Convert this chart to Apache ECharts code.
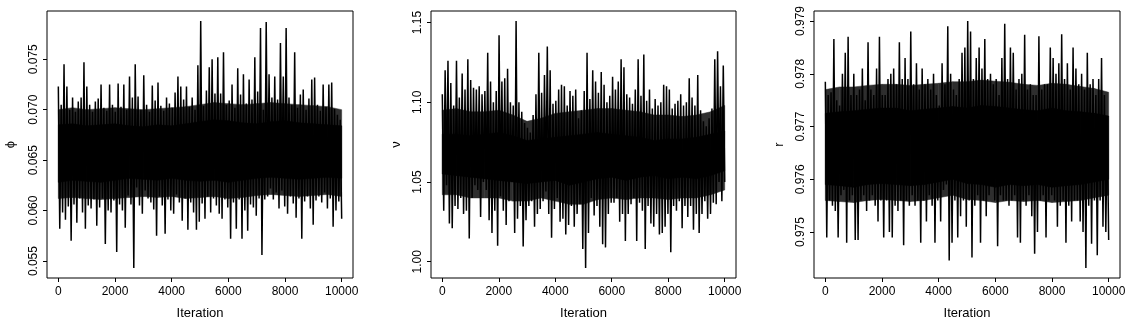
<!DOCTYPE html>
<html>
<head>
<meta charset="utf-8">
<script src="https://cdn.jsdelivr.net/npm/echarts@6/dist/echarts.min.js"></script>
<style>
html,body{margin:0;padding:0;background:#fff;}
#chart{width:1130px;height:325px;}
</style>
</head>
<body>
<div id="chart"></div>
<script>
// Iteration axis ticks
const iterTicks = [0, 2000, 4000, 6000, 8000, 10000];
// iterations at which the dense core / fringe bands of each trace are read (every 500)
const coreIter = [0,500,1000,1500,2000,2500,3000,3500,4000,4500,5000,5500,6000,6500,7000,7500,8000,8500,9000,9500,10000];

// phi trace: successive upper / lower excursions (every ~100 iterations)
const phiHigh = [0.0723,0.0705,0.0745,0.0723,0.0700,0.0712,0.0698,0.0708,0.0712,0.0747,
0.0723,0.0705,0.0698,0.0708,0.0711,0.0725,0.0702,0.0699,0.0725,0.0705,
0.0698,0.0726,0.0703,0.0725,0.0700,0.0733,0.0712,0.0745,0.0713,0.0700,
0.0734,0.0705,0.0698,0.0724,0.0709,0.0727,0.0704,0.0699,0.0712,0.0706,
0.0702,0.0717,0.0733,0.0723,0.0710,0.0723,0.0703,0.0712,0.0700,0.0744,
0.0788,0.0704,0.0719,0.0742,0.0750,0.0716,0.0752,0.0716,0.0757,0.0705,
0.0709,0.0725,0.0702,0.0741,0.0715,0.0735,0.0706,0.0730,0.0710,0.0752,
0.0718,0.0781,0.0700,0.0787,0.0735,0.0712,0.0733,0.0710,0.0766,0.0733,
0.0781,0.0712,0.0705,0.0757,0.0702,0.0715,0.0720,0.0700,0.0711,0.0730,
0.0732,0.0705,0.0699,0.0725,0.0703,0.0725,0.0727,0.0701,0.0695,0.0690];
const phiLow = [0.0582,0.0598,0.0591,0.0604,0.0570,0.0606,0.0588,0.0612,0.0598,0.0582,
0.0605,0.0602,0.0611,0.0585,0.0603,0.0612,0.0567,0.0600,0.0598,0.0610,
0.0559,0.0606,0.0600,0.0583,0.0615,0.0606,0.0543,0.0623,0.0605,0.0597,
0.0620,0.0612,0.0608,0.0601,0.0575,0.0614,0.0605,0.0577,0.0611,0.0600,
0.0597,0.0616,0.0608,0.0590,0.0612,0.0581,0.0608,0.0598,0.0581,0.0589,
0.0607,0.0592,0.0614,0.0598,0.0612,0.0605,0.0597,0.0592,0.0611,0.0603,
0.0572,0.0608,0.0582,0.0611,0.0572,0.0600,0.0580,0.0606,0.0603,0.0595,
0.0612,0.0556,0.0611,0.0614,0.0622,0.0611,0.0618,0.0602,0.0620,0.0604,
0.0597,0.0614,0.0607,0.0593,0.0612,0.0572,0.0609,0.0614,0.0602,0.0586,
0.0610,0.0614,0.0608,0.0618,0.0602,0.0612,0.0584,0.0600,0.0609,0.0592];
const phiCoreUp = [0.0685,0.0686,0.0684,0.0685,0.0686,0.0684,0.0683,0.0685,0.0684,0.0686,0.0688,0.0690,0.0689,0.0687,0.0686,0.0688,0.0689,0.0687,0.0686,0.0685,0.0684];
const phiCoreLo = [0.0628,0.0630,0.0629,0.0628,0.0630,0.0632,0.0631,0.0630,0.0632,0.0630,0.0629,0.0630,0.0628,0.0630,0.0632,0.0633,0.0632,0.0631,0.0632,0.0633,0.0632];
const phiFringeUp = [0.0700,0.0702,0.0700,0.0701,0.0702,0.0701,0.0700,0.0701,0.0702,0.0703,0.0705,0.0707,0.0706,0.0705,0.0706,0.0707,0.0706,0.0705,0.0704,0.0703,0.0700];
const phiFringeLo = [0.0612,0.0613,0.0612,0.0611,0.0612,0.0613,0.0614,0.0613,0.0614,0.0612,0.0613,0.0614,0.0612,0.0613,0.0615,0.0616,0.0615,0.0614,0.0615,0.0616,0.0614];
const phiTicks = [0.055, 0.060, 0.065, 0.070, 0.075];

// nu trace
const nuHigh = [1.105,1.120,1.126,1.112,1.098,1.126,1.103,1.118,1.108,1.127,
1.114,1.109,1.108,1.110,1.105,1.107,1.131,1.113,1.100,1.107,
1.142,1.113,1.115,1.121,1.100,1.098,1.151,1.100,1.094,1.087,
1.084,1.081,1.092,1.105,1.131,1.106,1.117,1.135,1.120,1.099,
1.101,1.108,1.111,1.110,1.098,1.107,1.104,1.108,1.090,1.095,
1.107,1.131,1.102,1.120,1.113,1.106,1.119,1.111,1.100,1.104,
1.116,1.108,1.113,1.127,1.122,1.105,1.103,1.099,1.108,1.127,
1.104,1.130,1.101,1.108,1.096,1.102,1.098,1.100,1.111,1.110,
1.108,1.096,1.099,1.101,1.105,1.098,1.100,1.115,1.103,1.098,
1.117,1.095,1.088,1.085,1.090,1.096,1.127,1.132,1.110,1.123];
const nuLow = [1.032,1.048,1.024,1.021,1.035,1.033,1.040,1.030,1.032,1.0145,
1.040,1.048,1.045,1.028,1.050,1.045,1.026,1.018,1.032,1.010,
1.041,1.032,1.023,1.038,1.050,1.018,1.027,1.035,1.0096,1.026,
1.035,1.038,1.022,1.030,1.033,1.038,1.044,1.030,1.015,1.033,
1.040,1.025,1.027,1.017,1.023,1.035,1.022,1.030,1.036,1.008,
0.996,1.018,1.040,1.029,1.035,1.022,1.011,1.009,1.030,1.037,
1.037,1.040,1.025,1.030,1.013,1.030,1.036,1.040,1.013,1.037,
1.032,1.008,1.035,1.024,1.022,1.030,1.017,1.018,1.022,1.030,
1.006,1.035,1.032,1.038,1.021,1.035,1.028,1.035,1.020,1.030,
1.018,1.030,1.038,1.027,1.030,1.037,1.036,1.050,1.038,1.050];
const nuCoreUp = [1.080,1.080,1.079,1.080,1.081,1.079,1.076,1.077,1.078,1.079,1.080,1.081,1.080,1.079,1.078,1.076,1.077,1.077,1.078,1.080,1.082];
const nuCoreLo = [1.055,1.054,1.053,1.052,1.051,1.050,1.049,1.050,1.051,1.048,1.050,1.052,1.053,1.051,1.053,1.054,1.052,1.053,1.052,1.054,1.057];
const nuFringeUp = [1.095,1.096,1.094,1.094,1.095,1.092,1.088,1.090,1.093,1.094,1.095,1.096,1.096,1.095,1.094,1.092,1.092,1.091,1.092,1.094,1.098];
const nuFringeLo = [1.042,1.042,1.040,1.040,1.040,1.038,1.038,1.040,1.038,1.036,1.036,1.039,1.040,1.039,1.040,1.040,1.039,1.040,1.040,1.042,1.045];
const nuTicks = [1.00, 1.05, 1.10, 1.15];

// r trace
const rHigh = [0.97785,0.97760,0.97765,0.97866,0.97750,0.97740,0.97800,0.97840,0.97870,0.97760,
0.97800,0.97760,0.97770,0.97810,0.97750,0.97860,0.97770,0.97760,0.97810,0.97870,
0.97760,0.97760,0.97790,0.97800,0.97810,0.97780,0.97860,0.97790,0.97830,0.97790,
0.97880,0.97780,0.97820,0.97770,0.97810,0.97780,0.97790,0.97770,0.97800,0.97760,
0.97740,0.97820,0.97780,0.97890,0.97800,0.97770,0.97760,0.97790,0.97840,0.97850,
0.97900,0.97880,0.97790,0.97830,0.97850,0.97810,0.97866,0.97790,0.97800,0.97780,
0.97790,0.97760,0.97830,0.97895,0.97790,0.97850,0.97840,0.97770,0.97790,0.97800,
0.97874,0.97770,0.97780,0.97760,0.97760,0.97871,0.97770,0.97780,0.97780,0.97850,
0.97830,0.97800,0.97820,0.97875,0.97790,0.97820,0.97770,0.97850,0.97810,0.97780,
0.97800,0.97770,0.97840,0.97780,0.97790,0.97760,0.97790,0.97830,0.97760,0.97710];
const rLow = [0.97490,0.97560,0.97550,0.97540,0.97490,0.97570,0.97580,0.97480,0.97560,0.97570,
0.97485,0.97485,0.97560,0.97570,0.97540,0.97560,0.97570,0.97550,0.97520,0.97560,
0.97490,0.97560,0.97500,0.97490,0.97550,0.97540,0.97560,0.97475,0.97560,0.97550,
0.97570,0.97550,0.97560,0.97480,0.97560,0.97520,0.97570,0.97550,0.97480,0.97560,
0.97520,0.97580,0.97590,0.97446,0.97480,0.97560,0.97490,0.97530,0.97560,0.97510,
0.97560,0.97452,0.97550,0.97570,0.97480,0.97560,0.97530,0.97570,0.97600,0.97560,
0.97473,0.97570,0.97560,0.97560,0.97550,0.97560,0.97570,0.97490,0.97480,0.97560,
0.97550,0.97570,0.97530,0.97459,0.97500,0.97560,0.97570,0.97490,0.97560,0.97570,
0.97560,0.97510,0.97550,0.97560,0.97480,0.97550,0.97520,0.97560,0.97560,0.97520,
0.97500,0.97432,0.97550,0.97478,0.97560,0.97456,0.97560,0.97510,0.97500,0.97485];
const rCoreUp = [0.97725,0.97728,0.97730,0.97733,0.97735,0.97735,0.97730,0.97733,0.97735,0.97738,0.97735,0.97740,0.97738,0.97735,0.97732,0.97730,0.97735,0.97730,0.97728,0.97725,0.97720];
const rCoreLo = [0.97590,0.97588,0.97585,0.97590,0.97592,0.97590,0.97588,0.97590,0.97595,0.97600,0.97592,0.97590,0.97585,0.97590,0.97588,0.97590,0.97585,0.97588,0.97590,0.97595,0.97600];
const rFringeUp = [0.97770,0.97775,0.97775,0.97778,0.97780,0.97780,0.97778,0.97780,0.97782,0.97785,0.97785,0.97788,0.97786,0.97784,0.97780,0.97778,0.97782,0.97780,0.97776,0.97772,0.97765];
const rFringeLo = [0.97560,0.97558,0.97556,0.97560,0.97562,0.97560,0.97558,0.97560,0.97565,0.97570,0.97562,0.97560,0.97556,0.97560,0.97558,0.97560,0.97556,0.97558,0.97560,0.97565,0.97570];
const rTicks = [0.975, 0.976, 0.977, 0.978, 0.979];

const FONT = "'Liberation Sans', Arial, Helvetica, sans-serif";

function trace(high, low) {
  const n = high.length * 2;
  const out = [];
  for (let k = 0; k < n; k++) {
    const i = k >> 1;
    const v = (k % 2 === 0) ? high[i] : low[i];
    out.push([k * 10000 / (n - 1), v]);
  }
  return out;
}

const panels = [
  {left: 47, width: 306, name: '\u03D5', ticks: phiTicks, dec: 3, min: 0.05332, max: 0.07978, hi: phiHigh, lo: phiLow,
   cu: phiCoreUp, cl: phiCoreLo, fu: phiFringeUp, fl: phiFringeLo, gap: 30},
  {left: 431, width: 305, name: '\u03BD', ticks: nuTicks, dec: 2, min: 0.9898, max: 1.1572, hi: nuHigh, lo: nuLow,
   cu: nuCoreUp, cl: nuCoreLo, fu: nuFringeUp, fl: nuFringeLo, gap: 28},
  {left: 814, width: 306, name: 'r', ticks: rTicks, dec: 3, min: 0.97413, max: 0.97919, hi: rHigh, lo: rLow,
   cu: rCoreUp, cl: rCoreLo, fu: rFringeUp, fl: rFringeLo, gap: 28}
];

function bandSeries(i, lower, upper, color, z) {
  const band = coreIter.map((x, j) => [x, lower[j], upper[j]]);
  return {
    type: 'custom', xAxisIndex: i, yAxisIndex: i, silent: true, z: z,
    data: band.slice(0, band.length - 1),
    encode: {x: 0, y: [1, 2]},
    renderItem: function (params, api) {
      const j = params.dataIndex;
      const a = band[j], b = band[j + 1];
      const pts = [
        api.coord([a[0], a[1]]), api.coord([b[0], b[1]]),
        api.coord([b[0], b[2]]), api.coord([a[0], a[2]])
      ];
      return {type: 'polygon', shape: {points: pts}, style: {fill: color, stroke: color, lineWidth: 0.5}};
    }
  };
}

const series = [];
panels.forEach((p, i) => {
  series.push(bandSeries(i, p.fl, p.fu, '#2e2e2e', 1));   // fringe: many overlapping excursions
  series.push(bandSeries(i, p.cl, p.cu, '#000000', 2));   // dense core of the trace
  series.push({
    type: 'line', xAxisIndex: i, yAxisIndex: i,
    data: trace(p.hi, p.lo),
    showSymbol: false, symbol: 'none',
    lineStyle: {color: '#000', width: 1.5},
    clip: true, z: 3
  });
});

const option = {
  animation: false,
  backgroundColor: '#fff',
  grid: panels.map(p => ({
    left: p.left, top: 11, width: p.width, height: 272,
    show: true, borderColor: '#000', borderWidth: 1, backgroundColor: 'transparent'
  })),
  xAxis: panels.map((p, i) => ({
    type: 'value', gridIndex: i, min: -400, max: 10400,
    name: 'Iteration', nameLocation: 'middle', nameGap: 29,
    nameTextStyle: {fontFamily: FONT, fontSize: 13, color: '#000'},
    axisLine: {show: false, onZero: false},
    axisTick: {show: true, inside: false, length: 4, lineStyle: {color: '#000', width: 1}, customValues: iterTicks},
    axisLabel: {show: true, margin: 8, fontFamily: FONT, fontSize: 12, color: '#000', customValues: iterTicks,
      formatter: v => String(Math.round(v))},
    splitLine: {show: false}
  })),
  yAxis: panels.map((p, i) => ({
    type: 'value', gridIndex: i, min: p.min, max: p.max,
    name: p.name, nameLocation: 'middle', nameGap: p.gap, nameRotate: 90,
    nameTextStyle: {fontFamily: FONT, fontSize: 13, color: '#000'},
    axisLine: {show: false, onZero: false},
    axisTick: {show: true, inside: false, length: 4, lineStyle: {color: '#000', width: 1}, customValues: p.ticks},
    axisLabel: {show: true, rotate: 90, margin: 7, fontFamily: FONT, fontSize: 12, color: '#000', customValues: p.ticks,
      formatter: v => Number(v).toFixed(p.dec)},
    splitLine: {show: false}
  })),
  series: series
};

const chart = echarts.init(document.getElementById('chart'), null, {renderer: 'canvas'});
chart.setOption(option);
</script>
</body>
</html>
